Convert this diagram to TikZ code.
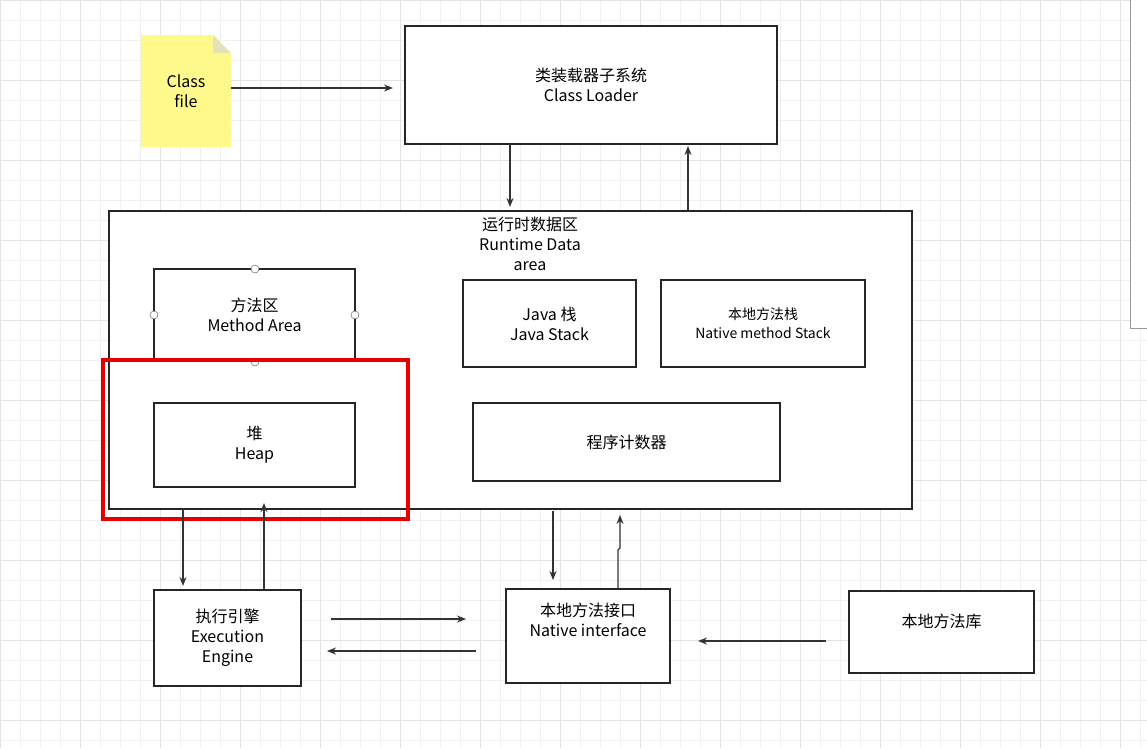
\documentclass[tikz,border=0pt]{standalone}
\usepackage{fontspec}
\setmainfont{Noto Sans CJK SC}
\usetikzlibrary{arrows.meta}
\begin{document}
\begin{tikzpicture}[x=1pt,y=-1pt,
  box/.style={draw=black!85,line width=1.3pt,fill=white,align=center,inner sep=0pt,font=\fontsize{16}{20}\selectfont},
  arr/.style={-{Stealth[length=9pt,width=7pt]},line width=1.3pt,black!80},
  dot/.style={circle,draw=black!70,fill=white,inner sep=0pt,minimum size=8pt}]
\useasboundingbox (0,0) rectangle (1147,748);
\fill[white] (0,0) rectangle (1147,748);
\draw[black!6,line width=0.6pt] (0,0) grid[step=20pt] (1147,748);
\draw[black!11,line width=0.8pt] (0,0) grid[step=80pt] (1147,748);
% side panel
\draw[black!40,fill=white] (1130,-2) rectangle (1150,328);
% class file note
\fill[yellow!45] (141,35) -- (213,35) -- (231,53) -- (231,147) -- (141,147) -- cycle;
\fill[yellow!60!black!30] (213,35) -- (213,53) -- (231,53) -- cycle;
\node[align=center,font=\fontsize{16}{20}\selectfont] (cf) at (186,91) {Class\\file};
\coordinate (cfr) at (231,88);
\node[box,minimum width=372pt,minimum height=118pt] (cl) at (591,85) {类装载器子系统\\Class Loader};
\draw[arr] (cfr) -- (393,88);
% runtime area
\node[box,minimum width=803pt,minimum height=298pt] (rt) at (510.5,360) {};
\node[align=center,font=\fontsize{16}{20}\selectfont] (rtt) at (530,244) {运行时数据区\\Runtime Data\\area};
\draw[arr] (510,144) -- (510,207);
\draw[arr] (688,210) -- (688,146);
\node[box,minimum width=201pt,minimum height=91pt] (ma) at (254.5,314.5) {方法区\\Method Area};
\foreach \p in {(255,269),(154,315),(355,315),(255,362)} \node[dot] at \p {};
\node[box,minimum width=173pt,minimum height=87pt] (js) at (549.5,323.5) {Java 栈\\Java Stack};
\node[box,minimum width=204pt,minimum height=87pt,font=\fontsize{14}{19}\selectfont] (ns) at (763,323.5) {本地方法栈\\Native method Stack};
\node[box,minimum width=201pt,minimum height=84pt] (hp) at (254.5,445) {堆\\Heap};
\node[box,minimum width=307pt,minimum height=78pt] (pc) at (626.5,442) {程序计数器};
\draw[red!90!black,line width=4.5pt] (103,360) rectangle (408,519);
% bottom
\node[box,minimum width=147pt,minimum height=96pt] (ee) at (227.5,638) {执行引擎\\Execution\\Engine};
\node[box,minimum width=164pt,minimum height=94pt] (ni) at (588,636) {本地方法接口\\Native interface\\[12pt]};
\node[box,minimum width=185pt,minimum height=82pt] (nl) at (941.5,632) {本地方法库\\[2pt]};
\draw[arr] (183,509) -- (183,586);
\draw[arr] (264,589) -- (264,503);
\draw[arr] (553,511) -- (553,580);
\draw[arr] (618,588) -- (618,550) -- (620,548) -- (620,515);
\draw[arr] (331,619) -- (466,619);
\draw[arr] (476,651) -- (327,651);
\draw[arr] (826,641) -- (698,641);
\end{tikzpicture}
\end{document}
